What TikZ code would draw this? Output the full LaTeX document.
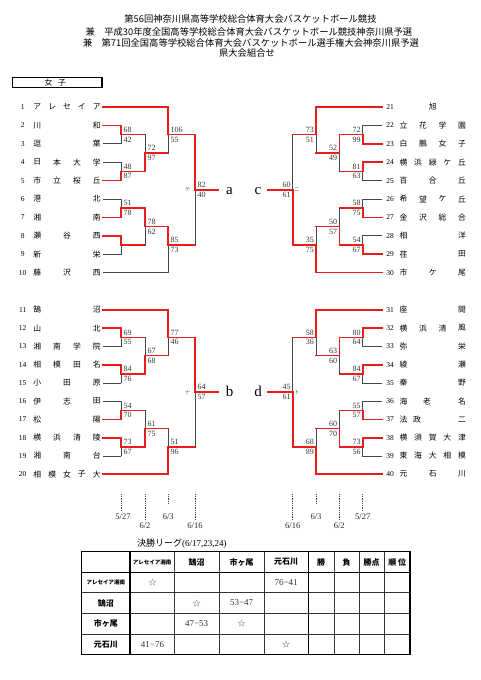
\documentclass[tikz,border=0pt]{standalone}
\usepackage{fontspec}
\setmainfont{Liberation Serif}
\newfontfamily\cjk{Noto Sans CJK JP}
\definecolor{wred}{RGB}{232,30,30}
\definecolor{lgray}{RGB}{70,70,70}
\newcount\nid
\newcommand\nx{\global\advance\nid by 1\relax}
\tikzset{
 win/.style={draw=wred, line width=1.6pt, line cap=rect},
 lose/.style={draw=lgray, line width=0.9pt, line cap=rect},
 sc/.style={font=\fontsize{8}{8}\selectfont, text=black!80, inner sep=0.8pt},
 nm/.style={font=\cjk\fontsize{7.8}{7.8}\selectfont, inner sep=0pt},
 num/.style={font=\fontsize{7.5}{7.5}\selectfont, inner sep=0pt},
 kana/.style={font=\cjk\fontsize{5.5}{5.5}\selectfont, text=black!60, inner sep=0pt},
 big/.style={font=\fontsize{15}{15}\selectfont, inner sep=0pt, anchor=base},
 dline/.style={draw=lgray, line width=0.9pt, dash pattern=on 1pt off 0.8pt},
 dt/.style={font=\fontsize{8.5}{8.5}\selectfont, inner sep=0pt, text=black!85},
 ttl/.style={font=\cjk\fontsize{9.3}{9.3}\selectfont, inner sep=0pt},
 tthin/.style={draw=black!80, line width=0.5pt},
 tthick/.style={draw=black, line width=1.1pt},
 th/.style={font=\cjk\bfseries\fontsize{8}{8}\selectfont, inner sep=0pt},
 ths/.style={font=\cjk\bfseries\fontsize{5.5}{5.5}\selectfont, inner sep=0pt},
 tc/.style={font=\fontsize{9}{9}\selectfont, inner sep=0pt, text=black!80},
 star/.style={font=\cjk\fontsize{8}{8}\selectfont, inner sep=0pt, text=black!70},
}
% team name, characters spread evenly
\newcommand\tn[6]{%
 \ifnum#5=1
   \node[nm] (t#1-1) at ({(#2+#3)/2},#4) {#6};
 \else
   \foreach \c [count=\i] in {#6}{\node[nm] (t#1-\i) at ({#2+(\i-1)*(#3-#2)/(#5-1)},#4) {\c};}
 \fi}
\newcommand\teamL[4]{\node[num] (no#1) at (22.7,#2) {#1}; \tn{#1}{37.3}{96.7}{#2}{#3}{#4}}
\newcommand\teamR[4]{\node[num] (no#1) at (390,#2) {#1}; \tn{#1}{403.5}{462}{#2}{#3}{#4}}
% matches: xv, xnext, ytop, yjunction, ybottom, winner t/b, top score, bottom score
\newcommand\matL[8]{%
 \if#6t
  \draw[lose] (#1,#4)--(#1,#5); \draw[win] (#1,#3)--(#1,#4);
 \else
  \draw[lose] (#1,#3)--(#1,#4); \draw[win] (#1,#4)--(#1,#5);
 \fi
 \draw[win] (#1,#4)--(#2,#4);
 \nx\node[sc,anchor=west] (n\the\nid) at (#1+1.5,#4-4.9) {#7};
 \nx\node[sc,anchor=west] (n\the\nid) at (#1+1.5,#4+4.9) {#8};}
\newcommand\matR[8]{%
 \if#6t
  \draw[lose] (#1,#4)--(#1,#5); \draw[win] (#1,#3)--(#1,#4);
 \else
  \draw[lose] (#1,#3)--(#1,#4); \draw[win] (#1,#4)--(#1,#5);
 \fi
 \draw[win] (#1,#4)--(#2,#4);
 \nx\node[sc,anchor=east] (n\the\nid) at (#1-1.2,#4-4.9) {#7};
 \nx\node[sc,anchor=east] (n\the\nid) at (#1-1.2,#4+4.9) {#8};}
\begin{document}
\begin{tikzpicture}[x=1pt,y=-1pt]
\useasboundingbox (0,0) rectangle (481,680);
\fill[white] (0,0) rectangle (481,680);
% title
\node[ttl] (ti1) at (250.5,19) {第56回神奈川県高等学校総合体育大会バスケットボール競技};
\node[ttl] (ti2) at (249,31.6) {兼　平成30年度全国高等学校総合体育大会バスケットボール競技神奈川県予選};
\node[ttl] (ti3) at (251,42.6) {兼　第71回全国高等学校総合体育大会バスケットボール選手権大会神奈川県予選};
\node[ttl] (ti4) at (247,52.8) {県大会組合せ};
\draw[line width=1.2pt] (12.5,77.5) rectangle (102,87.5);
\node[nm] (g1) at (48.5,82.5) {女};
\node[nm] (g2) at (62,82.5) {子};
% ---- teams
\teamL{1}{107}{5}{ア,レ,セ,イ,ア}
\teamL{2}{125.4}{2}{川,和}
\teamL{3}{143.8}{2}{逗,葉}
\teamL{4}{162.2}{4}{日,本,大,学}
\teamL{5}{180.6}{4}{市,立,桜,丘}
\teamL{6}{199}{2}{港,北}
\teamL{7}{217.4}{2}{湘,南}
\teamL{8}{235.8}{3}{瀬,谷,西}
\teamL{9}{254.2}{2}{新,栄}
\teamL{10}{272.6}{3}{藤,沢,西}
\teamL{11}{310}{2}{鵠,沼}
\teamL{12}{328.25}{2}{山,北}
\teamL{13}{346.5}{4}{湘,南,学,院}
\teamL{14}{364.75}{4}{相,模,田,名}
\teamL{15}{383}{3}{小,田,原}
\teamL{16}{401.25}{3}{伊,志,田}
\teamL{17}{419.5}{2}{松,陽}
\teamL{18}{437.75}{4}{横,浜,清,陵}
\teamL{19}{456}{3}{湘,南,台}
\teamL{20}{474.25}{5}{相,模,女,子,大}
\teamR{21}{107}{1}{旭}
\teamR{22}{125.4}{4}{立,花,学,園}
\teamR{23}{143.8}{4}{白,鵬,女,子}
\teamR{24}{162.2}{5}{横,浜,緑,ケ,丘}
\teamR{25}{180.6}{3}{百,合,丘}
\teamR{26}{199}{4}{希,望,ケ,丘}
\teamR{27}{217.4}{4}{金,沢,総,合}
\teamR{28}{235.8}{2}{相,洋}
\teamR{29}{254.2}{2}{荏,田}
\teamR{30}{272.6}{3}{市,ケ,尾}
\teamR{31}{310}{2}{座,間}
\teamR{32}{328.25}{4}{横,浜,清,風}
\teamR{33}{346.5}{2}{弥,栄}
\teamR{34}{364.75}{2}{綾,瀬}
\teamR{35}{383}{2}{秦,野}
\node[num] (no36) at (390,401.25) {36};
\node[nm] (t36-1) at (403.5,401.25) {海};
\node[nm] (t36-2) at (427,401.25) {老};
\node[nm] (t36-3) at (462,401.25) {名};
\node[num] (no37) at (390,419.5) {37};
\node[nm] (t37-1) at (403.5,419.5) {法};
\node[nm] (t37-2) at (417,419.5) {政};
\node[nm] (t37-3) at (462,419.5) {二};
\teamR{38}{437.75}{5}{横,須,賀,大,津}
\teamR{39}{456}{5}{東,海,大,相,模}
\teamR{40}{474.25}{3}{元,石,川}
% ---- left top entry lines
\draw[win] (103,107)--(168,107);
\draw[win] (103,125.4)--(121,125.4);
\draw[lose] (103,143.8)--(121,143.8);
\draw[lose] (103,162.2)--(121,162.2);
\draw[win] (103,180.6)--(121,180.6);
\draw[lose] (103,199)--(121,199);
\draw[win] (103,217.4)--(121,217.4);
\draw[win] (103,235.8)--(121,235.8);
\draw[lose] (103,254.2)--(121,254.2);
\draw[lose] (103,272.6)--(168,272.6);
\matL{121}{145}{125.4}{134.6}{143.8}{t}{68}{42}
\matL{121}{145}{162.2}{171.4}{180.6}{b}{48}{87}
\matL{121}{145}{199}{208.2}{217.4}{b}{51}{78}
\matL{121}{145}{235.8}{245}{254.2}{t}{}{}
\matL{145}{168}{134.6}{153}{171.4}{b}{72}{97}
\matL{145}{168}{208.2}{226.6}{245}{t}{78}{62}
\matL{168}{195}{107}{134.6}{153}{t}{106}{55}
\matL{168}{195}{226.6}{245}{272.6}{t}{85}{73}
\matL{195}{218}{134.6}{189.8}{245}{t}{82}{40}
% ---- left bottom
\draw[win] (103,310)--(168,310);
\draw[win] (103,328.25)--(121,328.25);
\draw[lose] (103,346.5)--(121,346.5);
\draw[win] (103,364.75)--(121,364.75);
\draw[lose] (103,383)--(121,383);
\draw[lose] (103,401.25)--(121,401.25);
\draw[win] (103,419.5)--(121,419.5);
\draw[win] (103,437.75)--(121,437.75);
\draw[lose] (103,456)--(121,456);
\draw[win] (103,474.25)--(168,474.25);
\matL{121}{145}{328.25}{337.4}{346.5}{t}{69}{55}
\matL{121}{145}{364.75}{373.9}{383}{t}{84}{76}
\matL{121}{145}{401.25}{410.4}{419.5}{b}{54}{70}
\matL{121}{145}{437.75}{446.9}{456}{t}{73}{67}
\matL{145}{168}{337.4}{355.6}{373.9}{b}{67}{68}
\matL{145}{168}{410.4}{428.6}{446.9}{b}{61}{75}
\matL{168}{195}{310}{337.4}{355.6}{t}{77}{46}
\matL{168}{195}{428.6}{446.9}{474.25}{b}{51}{96}
\matL{195}{218}{337.4}{392.1}{446.9}{t}{64}{57}
% ---- right top
\draw[win] (381.7,107)--(316,107);
\draw[lose] (381.7,125.4)--(362.7,125.4);
\draw[win] (381.7,143.8)--(362.7,143.8);
\draw[win] (381.7,162.2)--(362.7,162.2);
\draw[lose] (381.7,180.6)--(362.7,180.6);
\draw[lose] (381.7,199)--(362.7,199);
\draw[win] (381.7,217.4)--(362.7,217.4);
\draw[lose] (381.7,235.8)--(362.7,235.8);
\draw[win] (381.7,254.2)--(362.7,254.2);
\draw[win] (381.7,272.6)--(316,272.6);
\matR{362.7}{339.3}{125.4}{134.6}{143.8}{b}{72}{99}
\matR{362.7}{339.3}{162.2}{171.4}{180.6}{t}{81}{63}
\matR{362.7}{339.3}{199}{208.2}{217.4}{b}{58}{75}
\matR{362.7}{339.3}{235.8}{245}{254.2}{b}{54}{67}
\matR{339.3}{316}{134.6}{153}{171.4}{t}{52}{49}
\matR{339.3}{316}{208.2}{226.6}{245}{b}{50}{57}
\matR{316}{292.7}{107}{134.6}{153}{t}{73}{51}
\matR{316}{292.7}{226.6}{245}{272.6}{b}{35}{75}
\matR{292.7}{267.3}{134.6}{189.8}{245}{b}{60}{61}
% ---- right bottom
\draw[win] (381.7,310)--(316,310);
\draw[win] (381.7,328.25)--(362.7,328.25);
\draw[lose] (381.7,346.5)--(362.7,346.5);
\draw[win] (381.7,364.75)--(362.7,364.75);
\draw[lose] (381.7,383)--(362.7,383);
\draw[lose] (381.7,401.25)--(362.7,401.25);
\draw[win] (381.7,419.5)--(362.7,419.5);
\draw[win] (381.7,437.75)--(362.7,437.75);
\draw[lose] (381.7,456)--(362.7,456);
\draw[win] (381.7,474.25)--(316,474.25);
\matR{362.7}{339.3}{328.25}{337.4}{346.5}{t}{80}{64}
\matR{362.7}{339.3}{364.75}{373.9}{383}{t}{84}{67}
\matR{362.7}{339.3}{401.25}{410.4}{419.5}{b}{55}{57}
\matR{362.7}{339.3}{437.75}{446.9}{456}{t}{73}{56}
\matR{339.3}{316}{337.4}{355.6}{373.9}{t}{63}{60}
\matR{339.3}{316}{410.4}{428.6}{446.9}{b}{60}{70}
\matR{316}{292.7}{310}{337.4}{355.6}{t}{58}{36}
\matR{316}{292.7}{428.6}{446.9}{474.25}{b}{68}{89}
\matR{292.7}{267.3}{337.4}{392.1}{446.9}{b}{45}{61}
% ---- block letters and marks
\node[big] (la) at (229.5,194) {a};
\node[big] (lc) at (258,194) {c};
\node[big] (lb) at (229.5,396.3) {b};
\node[big] (ld) at (258,396.3) {d};
\node[kana] (k1) at (187.5,189.8) {テ};
\node[kana] (k2) at (297,189.8) {ニ};
\node[kana] (k3) at (187.5,392.1) {ナ};
\node[kana] (k4) at (297,392.1) {ト};
% ---- dates
\draw[dline] (121.7,494)--(121.7,510.7);
\draw[dline] (145,494)--(145,520.7);
\draw[dline] (168.3,494)--(168.3,503.3);
\draw[dline] (195,494)--(195,520.7);
\draw[dline] (292.7,494)--(292.7,520.7);
\draw[dline] (316,494)--(316,503.3);
\draw[dline] (339.3,494)--(339.3,520.7);
\draw[dline] (362.7,494)--(362.7,510.7);
\node[dt] (d1) at (123,516.7) {5/27};
\node[dt] (d2) at (145,526) {6/2};
\node[dt] (d3) at (168.3,516.7) {6/3};
\node[dt] (d4) at (195,526) {6/16};
\node[dt] (d5) at (292.7,526) {6/16};
\node[dt] (d6) at (316,516.7) {6/3};
\node[dt] (d7) at (339.3,526) {6/2};
\node[dt] (d8) at (362.7,516.7) {5/27};
% ---- league table
\node[font=\fontsize{9}{9}\selectfont, inner sep=0pt, anchor=west] (lg) at (137,544) {{\cjk 決勝リーグ}(6/17,23,24)};
\foreach \x in {174.3,219,264,334,359,384.3} \draw[tthin] (\x,551.7)--(\x,654.3);
\foreach \y in {592.7,613.3,634} \draw[tthin] (81.7,\y)--(410,\y);
\draw[tthick] (81.7,551.7) rectangle (410,654.3);
\draw[tthick] (130,551.7)--(130,654.3);
\draw[tthick] (308.3,551.7)--(308.3,654.3);
\draw[tthick] (81.7,572.3)--(410,572.3);
\node[ths] (h1) at (152.2,562) {アレセイア湘南};
\node[th] (h2) at (196.7,562) {鵠沼};
\node[th] (h3) at (241.6,562) {市ヶ尾};
\node[th] (h4) at (286.2,562) {元石川};
\node[th] (h5) at (321.2,562) {勝};
\node[th] (h6) at (346.5,562) {負};
\node[th] (h7) at (371.7,562) {勝点};
\node[th] (h8) at (397.2,562) {順 位};
\node[ths] (r1) at (105.8,582.5) {アレセイア湘南};
\node[th] (r2) at (105.8,603) {鵠沼};
\node[th] (r3) at (105.8,623.7) {市ヶ尾};
\node[th] (r4) at (105.8,644.2) {元石川};
\node[star] (s1) at (152.5,582.5) {☆};
\node[tc] (c14) at (286.2,582.5) {76−41};
\node[star] (s2) at (196.7,603) {☆};
\node[tc] (c23) at (241.6,603) {53−47};
\node[tc] (c32) at (196.7,623.7) {47−53};
\node[star] (s3) at (241.6,623.7) {☆};
\node[tc] (c41) at (152.5,644.2) {41−76};
\node[star] (s4) at (286.2,644.2) {☆};
\end{tikzpicture}
\end{document}
